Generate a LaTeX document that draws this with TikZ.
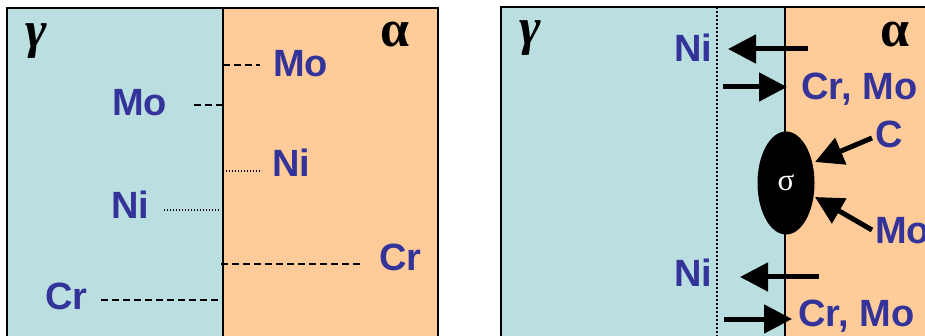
\documentclass[tikz,border=0pt]{standalone}
\usepackage{fontspec}
\setmainfont{Liberation Sans}
\newfontfamily\greekfont{Liberation Serif}
\usetikzlibrary{arrows.meta,shapes.geometric}
\definecolor{gcol}{HTML}{BBDFE1}
\definecolor{acol}{HTML}{FFCC99}
\definecolor{elem}{HTML}{333399}
\tikzset{
  lbl/.style={inner sep=0pt, anchor=west, text=elem, font=\fontsize{38}{40}\selectfont\bfseries},
  gam/.style={inner sep=0pt, font=\fontsize{52}{54}\selectfont\greekfont\bfseries\itshape},
  alp/.style={inner sep=0pt, font=\fontsize{52}{54}\selectfont\greekfont\bfseries},
  dashln/.style={line width=1.3pt, dash pattern=on 7pt off 4pt},
  dotln/.style={line width=1.2pt, dash pattern=on 1.2pt off 1.8pt},
  flux/.style={line width=5pt, -{Triangle[length=28pt,width=28pt]}},
  border/.style={line width=1.3pt},
}
\begin{document}
\begin{tikzpicture}[x=1pt,y=-1pt]
\useasboundingbox (0,0) rectangle (925,336);
\clip (0,0) rectangle (925,336);
% left panel
\fill[gcol] (7,8) rectangle (223,345);
\fill[acol] (223,8) rectangle (438,345);
\draw[border] (7,345) -- (7,8) -- (438,8) -- (438,345);
\draw[line width=1.8pt] (223,8) -- (223,345);
\node[gam] (g1) at (36,41) {γ};
\node[alp] (a1) at (395,35) {α};
\node[lbl] (mo1r) at (273,64) {Mo};
\node[lbl] (mo1l) at (112,103) {Mo};
\node[lbl] (ni1r) at (272,163) {Ni};
\node[lbl] (ni1l) at (111,205) {Ni};
\node[lbl] (cr1r) at (379,257) {Cr};
\node[lbl] (cr1l) at (45,296) {Cr};
\coordinate (p1) at (223,65);
\coordinate (p2) at (223,105);
\coordinate (p3) at (223,171);
\coordinate (p4) at (220,210);
\coordinate (p5) at (221,264);
\coordinate (p6) at (218,300);
\draw[dashln] (p1) -- (260,65);
\draw[dashln] (194,105) -- (p2);
\draw[dotln] (p3) -- (262,171);
\draw[dotln] (164,210) -- (p4);
\draw[dashln] (p5) -- (363,264);
\draw[dashln] (101,300) -- (p6);
% right panel
\fill[gcol] (501,7) rectangle (785,345);
\fill[acol] (785,7) rectangle (935,345);
\draw[border] (501,345) -- (501,7) -- (935,7);
\draw[line width=1.8pt] (785,7) -- (785,345);
\draw[line width=2pt, dash pattern=on 2pt off 2pt] (717,7) -- (717,345);
\node[gam] (g2) at (530,38) {γ};
\node[alp] (a2) at (895,35) {α};
\node[lbl] (ni2a) at (674,48) {Ni};
\node[lbl] (crmo2a) at (801,89) {Cr, Mo};
\node[lbl] (c2) at (875,134) {C};
\node[lbl] (mo2) at (875,231) {Mo};
\node[lbl] (ni2b) at (674,273) {Ni};
\node[lbl] (crmo2b) at (798,316) {Cr, Mo};
\node[ellipse, fill=black, minimum width=57pt, minimum height=103pt, inner sep=0pt,
      text=white, font=\fontsize{31}{33}\selectfont\greekfont] (sig) at (786,183) {σ};
\coordinate (s1) at (808,49);
\coordinate (e1) at (728,49);
\coordinate (s2) at (723,87);
\coordinate (e2) at (787,87);
\coordinate (s3) at (819,277);
\coordinate (e3) at (740,277);
\coordinate (s4) at (724,319);
\coordinate (e4) at (792,319);
\coordinate (sc) at (872,138);
\coordinate (ec) at (815,162);
\coordinate (sm) at (872,230);
\coordinate (em) at (815,197);
\draw[flux] (s1) -- (e1);
\draw[flux] (s2) -- (e2);
\draw[flux] (s3) -- (e3);
\draw[flux] (s4) -- (e4);
\draw[flux] (sc) -- (ec);
\draw[flux] (sm) -- (em);
\end{tikzpicture}
\end{document}
